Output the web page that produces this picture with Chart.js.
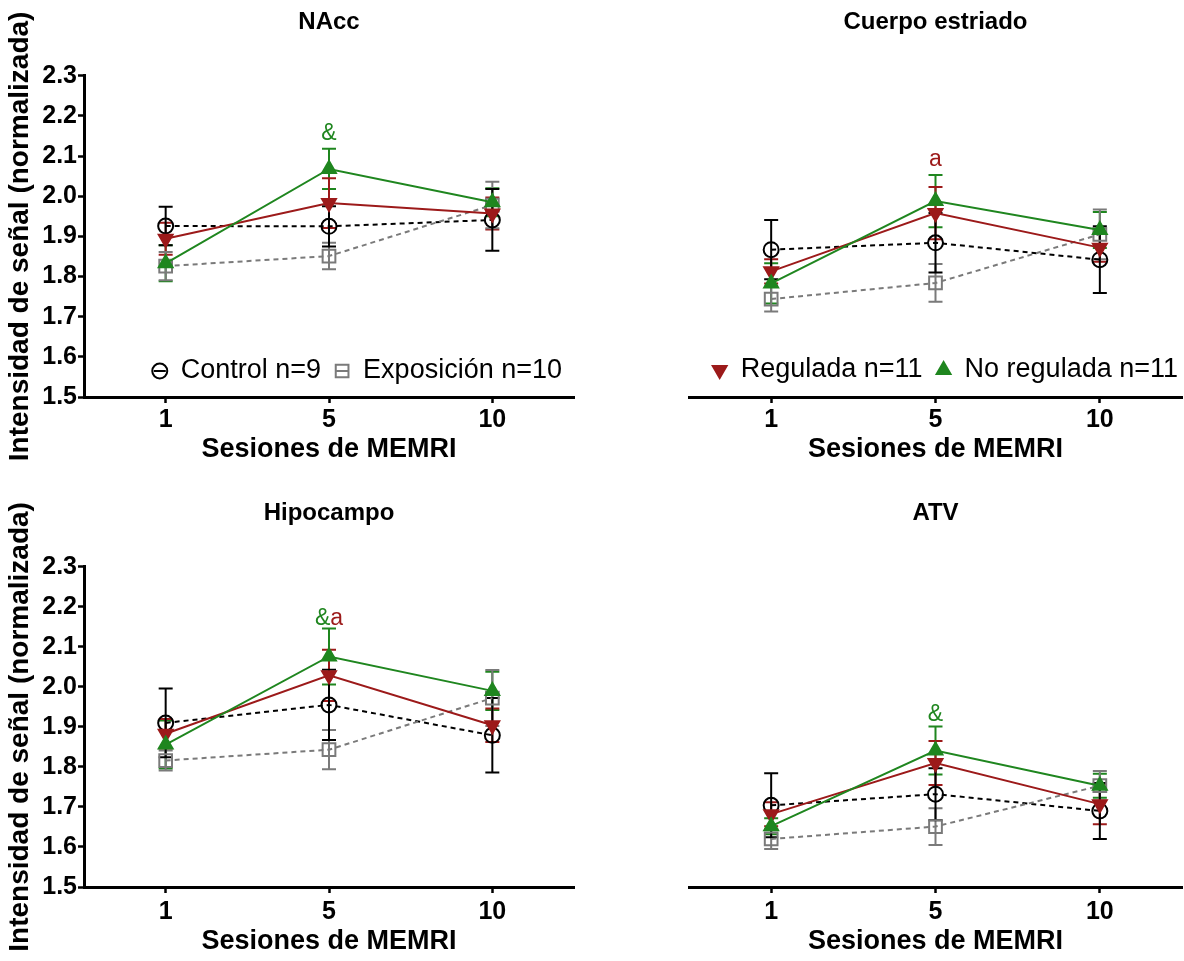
<!DOCTYPE html>
<html>
<head>
<meta charset="utf-8">
<script src="https://cdn.jsdelivr.net/npm/chart.js@4.4.0/dist/chart.umd.min.js"></script>
<style>
    body { margin: 0; background: #fff; }
    .panel { position: absolute; }
</style>
</head>
<body>
<div class="panel" style="left:0;top:0"><canvas id="nacc" width="592" height="480"></canvas></div>
<div class="panel" style="left:592px;top:0"><canvas id="estriado" width="592" height="480"></canvas></div>
<div class="panel" style="left:0;top:480px"><canvas id="hipocampo" width="592" height="481"></canvas></div>
<div class="panel" style="left:592px;top:480px"><canvas id="atv" width="592" height="481"></canvas></div>
<script>
// Sessions (x axis)
const sessions = ['1', '5', '10'];

// NAcc
const naccControl = [1.926, 1.925, 1.941];
const naccControlErr = [0.048, 0.05, 0.077];
const naccExpo = [1.826, 1.851, 1.978];
const naccExpoErr = [0.035, 0.033, 0.058];
const naccReg = [1.894, 1.983, 1.957];
const naccRegErr = [0.04, 0.062, 0.04];
const naccNoReg = [1.833, 2.068, 1.985];
const naccNoRegErr = [0.045, 0.05, 0.035];

// Cuerpo estriado
const estControl = [1.867, 1.884, 1.842];
const estControlErr = [0.074, 0.074, 0.083];
const estExpo = [1.744, 1.784, 1.905];
const estExpoErr = [0.031, 0.047, 0.062];
const estReg = [1.813, 1.958, 1.872];
const estRegErr = [0.03, 0.065, 0.035];
const estNoReg = [1.783, 1.988, 1.916];
const estNoRegErr = [0.05, 0.065, 0.045];

// Hipocampo
const hipControl = [1.910, 1.955, 1.879];
const hipControlErr = [0.086, 0.088, 0.093];
const hipExpo = [1.816, 1.843, 1.972];
const hipExpoErr = [0.025, 0.049, 0.07];
const hipReg = [1.883, 2.029, 1.904];
const hipRegErr = [0.037, 0.064, 0.042];
const hipNoReg = [1.856, 2.076, 1.990];
const hipNoRegErr = [0.06, 0.07, 0.048];

// ATV
const atvControl = [1.704, 1.732, 1.690];
const atvControlErr = [0.08, 0.065, 0.07];
const atvExpo = [1.620, 1.651, 1.753];
const atvExpoErr = [0.025, 0.046, 0.037];
const atvReg = [1.682, 1.810, 1.707];
const atvRegErr = [0.03, 0.055, 0.05];
const atvNoReg = [1.652, 1.841, 1.753];
const atvNoRegErr = [0.02, 0.06, 0.03];

// Y axis ticks
const yTicks = [1.5, 1.6, 1.7, 1.8, 1.9, 2.0, 2.1, 2.2, 2.3];

const BLACK = '#000000';
const GRAY = '#7a7a7a';
const RED = '#9c1a1a';
const GREEN = '#1f861f';
const FONT = "'Liberation Sans', Arial, sans-serif";

Chart.defaults.font.family = FONT;
Chart.defaults.color = BLACK;

// Error bars (mean ± SEM) drawn through the y scale
const errorBars = {
    id: 'errorBars',
    beforeDatasetsDraw(chart) {
        const ctx = chart.ctx;
        const yScale = chart.scales.y;
        chart.data.datasets.forEach((ds, i) => {
            const meta = chart.getDatasetMeta(i);
            ctx.save();
            ctx.strokeStyle = ds.borderColor;
            ctx.lineWidth = 2;
            meta.data.forEach((pt, j) => {
                const top = yScale.getPixelForValue(ds.data[j] + ds.err[j]);
                const bot = yScale.getPixelForValue(ds.data[j] - ds.err[j]);
                ctx.beginPath();
                ctx.moveTo(pt.x, top);
                ctx.lineTo(pt.x, bot);
                ctx.moveTo(pt.x - 7, top);
                ctx.lineTo(pt.x + 7, top);
                ctx.moveTo(pt.x - 7, bot);
                ctx.lineTo(pt.x + 7, bot);
                ctx.stroke();
            });
            ctx.restore();
        });
    }
};

// Significance marks above a session
const marks = {
    id: 'marks',
    afterDatasetsDraw(chart, args, opts) {
        if (!opts.items) return;
        const ctx = chart.ctx;
        ctx.save();
        ctx.font = '23px ' + FONT;
        ctx.textBaseline = 'middle';
        ctx.textAlign = 'left';
        opts.items.forEach(m => {
            const x = chart.scales.x.getPixelForValue(m.at);
            const y = chart.scales.y.getPixelForValue(m.value);
            const total = m.parts.reduce((s, p) => s + ctx.measureText(p[0]).width, 0);
            let cx = x - total / 2;
            m.parts.forEach(p => {
                ctx.fillStyle = p[1];
                ctx.fillText(p[0], cx, y);
                cx += ctx.measureText(p[0]).width;
            });
        });
        ctx.restore();
    }
};

// Legend placed inside the plot, right aligned
const insideLegend = {
    id: 'insideLegend',
    afterDraw(chart, args, opts) {
        if (!opts.show) return;
        const ctx = chart.ctx;
        const area = chart.chartArea;
        ctx.save();
        ctx.font = '27px ' + FONT;
        ctx.textBaseline = 'middle';
        ctx.textAlign = 'left';
        const y = area.bottom - opts.lift;
        let x = area.right - opts.inset;
        for (let k = opts.show.length - 1; k >= 0; k--) {
            const ds = chart.data.datasets[opts.show[k]];
            x -= ctx.measureText(ds.label).width;
            ctx.fillStyle = BLACK;
            ctx.fillText(ds.label, x, y);
            const mx = x - 21;
            ctx.strokeStyle = ds.borderColor;
            ctx.fillStyle = ds.pointBackgroundColor;
            ctx.lineWidth = 2;
            if (ds.borderDash.length) {
                ctx.beginPath();
                ctx.moveTo(mx - 6, y);
                ctx.lineTo(mx + 6, y);
                ctx.stroke();
            }
            Chart.helpers.drawPoint(ctx, {
                pointStyle: ds.pointStyle,
                rotation: ds.pointRotation,
                radius: ds.pointRadius,
                borderWidth: 2
            }, mx, y);
            x = mx - 21;
        }
        ctx.restore();
    }
};

function group(label, data, err, color, style, rotation, open, dash) {
    return {
        label: label,
        data: data,
        err: err,
        borderColor: color,
        borderWidth: 2,
        borderDash: dash,
        pointStyle: style,
        pointRotation: rotation,
        pointRadius: style === 'rect' ? 9 : (style === 'triangle' ? 8 : 7.5),
        pointBorderWidth: 2,
        pointBorderColor: color,
        pointBackgroundColor: open ? 'rgba(0,0,0,0)' : color,
        tension: 0
    };
}

// Create one panel
function createPanel(canvasId, cfg) {
    const ctx = document.getElementById(canvasId).getContext('2d');
    const left = cfg.left;
    return new Chart(ctx, {
        type: 'line',
        data: {
            labels: sessions,
            datasets: [
                group('No regulada n=11', cfg.noReg, cfg.noRegErr, GREEN, 'triangle', 0, false, []),
                group('Regulada n=11', cfg.reg, cfg.regErr, RED, 'triangle', 180, false, []),
                group('Exposición n=10', cfg.expo, cfg.expoErr, GRAY, 'rect', 0, true, [5, 4]),
                group('Control n=9', cfg.control, cfg.controlErr, BLACK, 'circle', 0, true, [5, 4])
            ]
        },
        options: {
            responsive: false,
            animation: false,
            layout: {
                autoPadding: false,
                padding: { left: left ? 0 : 97, right: left ? 18 : 2, top: 0, bottom: 0 }
            },
            plugins: {
                legend: { display: false },
                tooltip: { enabled: false },
                title: {
                    display: true,
                    text: cfg.title,
                    fullSize: false,
                    color: BLACK,
                    font: { size: 24, weight: 'bold' },
                    padding: { top: cfg.titleTop, bottom: 39.4 }
                },
                marks: { items: cfg.marks },
                insideLegend: cfg.legend
            },
            scales: {
                x: {
                    type: 'category',
                    offset: true,
                    border: { display: true, color: BLACK, width: 3 },
                    grid: { drawOnChartArea: false, drawTicks: true, tickLength: 6, tickWidth: 2.5, color: BLACK },
                    ticks: { color: BLACK, font: { size: 25, weight: 'bold' }, padding: cfg.tickPad, maxRotation: 0 },
                    title: {
                        display: true,
                        text: 'Sesiones de MEMRI',
                        color: BLACK,
                        font: { size: 27, weight: 'bold' },
                        padding: { top: 0, bottom: cfg.xTitleBottom }
                    },
                    afterFit(scale) {
                        scale.height = cfg.xHeight;
                        scale.paddingLeft = 0;
                        scale.paddingRight = 0;
                    }
                },
                y: {
                    display: left,
                    min: 1.5,
                    max: 2.3,
                    afterBuildTicks(scale) { scale.ticks = yTicks.map(v => ({ value: v })); },
                    border: { display: true, color: BLACK, width: 3 },
                    grid: { drawOnChartArea: false, drawTicks: true, tickLength: 6, tickWidth: 2.5, color: BLACK },
                    ticks: {
                        color: BLACK,
                        font: { size: 25, weight: 'bold' },
                        padding: 1,
                        callback: v => Number(v).toFixed(1)
                    },
                    title: {
                        display: true,
                        text: 'Intensidad de señal (normalizada)',
                        color: BLACK,
                        font: { size: 28, weight: 'bold' },
                        padding: { top: 3, bottom: 0 }
                    },
                    afterFit(scale) { scale.width = left ? 84 : 0; }
                }
            }
        },
        plugins: [errorBars, marks, insideLegend]
    });
}

const topRow = { titleTop: 7.6, xHeight: 83, tickPad: 2, xTitleBottom: 14 };
const bottomRow = { titleTop: 18.6, xHeight: 74, tickPad: 4, xTitleBottom: 3 };

createPanel('nacc', Object.assign({}, topRow, {
    left: true, title: 'NAcc',
    control: naccControl, controlErr: naccControlErr,
    expo: naccExpo, expoErr: naccExpoErr,
    reg: naccReg, regErr: naccRegErr,
    noReg: naccNoReg, noRegErr: naccNoRegErr,
    marks: [{ at: 1, value: 2.155, parts: [['&', GREEN]] }],
    legend: { show: [3, 2], inset: 12, lift: 26 }
}));

createPanel('estriado', Object.assign({}, topRow, {
    left: false, title: 'Cuerpo estriado',
    control: estControl, controlErr: estControlErr,
    expo: estExpo, expoErr: estExpoErr,
    reg: estReg, regErr: estRegErr,
    noReg: estNoReg, noRegErr: estNoRegErr,
    marks: [{ at: 1, value: 2.09, parts: [['a', RED]] }],
    legend: { show: [1, 0], inset: 4, lift: 27 }
}));

createPanel('hipocampo', Object.assign({}, bottomRow, {
    left: true, title: 'Hipocampo',
    control: hipControl, controlErr: hipControlErr,
    expo: hipExpo, expoErr: hipExpoErr,
    reg: hipReg, regErr: hipRegErr,
    noReg: hipNoReg, noRegErr: hipNoRegErr,
    marks: [{ at: 1, value: 2.17, parts: [['&', GREEN], ['a', RED]] }],
    legend: {}
}));

createPanel('atv', Object.assign({}, bottomRow, {
    left: false, title: 'ATV',
    control: atvControl, controlErr: atvControlErr,
    expo: atvExpo, expoErr: atvExpoErr,
    reg: atvReg, regErr: atvRegErr,
    noReg: atvNoReg, noRegErr: atvNoRegErr,
    marks: [{ at: 1, value: 1.93, parts: [['&', GREEN]] }],
    legend: {}
}));
</script>
</body>
</html>
